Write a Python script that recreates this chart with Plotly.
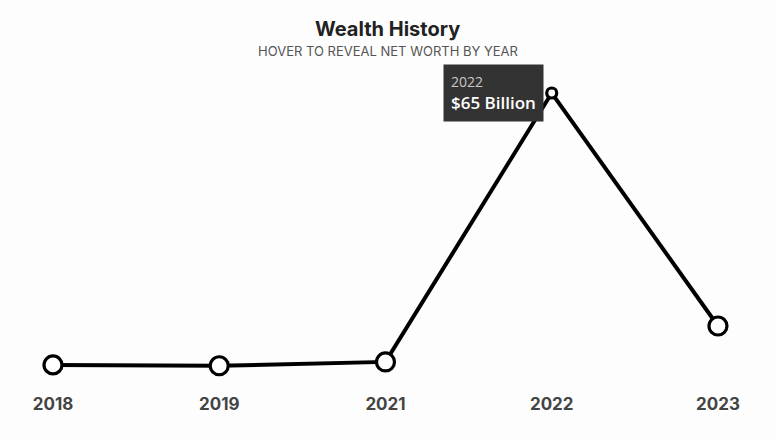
import plotly.graph_objects as go

years = ["2018", "2019", "2021", "2022", "2023"]
net_worth_billion = [1.4, 1.2, 2.1, 65, 10.5]
title_text = "Wealth History"
subtitle_text = "HOVER TO REVEAL NET WORTH BY YEAR"
hover_year = "2022"
hover_value = 65

fig = go.Figure()
fig.add_trace(go.Scatter(
    x=years, y=net_worth_billion, mode="lines+markers",
    line=dict(color="#000000", width=4),
    marker=dict(size=[18, 18, 18, 10, 18], color="#ffffff", opacity=1,
                line=dict(color="#000000", width=3.2)),
    hovertemplate="%{x}<br>$%{y} Billion<extra></extra>",
    cliponaxis=False,
))

fig.add_annotation(
    x=years.index(hover_year), y=hover_value, xref="x", yref="y",
    text=(f"<span style='font-size:14px;color:#c8c8c8;font-weight:400'>{hover_year}</span><br>"
          f"<span style='font-weight:600'>${hover_value} Billion</span>"),
    showarrow=False, xanchor="right", yanchor="middle", xshift=-8, yshift=0,
    align="left", bgcolor="#333333", borderpad=7,
    font=dict(family="Open Sans, sans-serif", size=17, color="#ffffff"),
)

fig.add_annotation(
    x=0.5, y=1, xref="paper", yref="paper", yanchor="middle", yshift=31,
    text=f"<b>{title_text}</b>", showarrow=False,
    font=dict(family="Inter, sans-serif", size=20, color="#222222"),
)
fig.add_annotation(
    x=0.5, y=1, xref="paper", yref="paper", yanchor="middle", yshift=9,
    text=subtitle_text, showarrow=False,
    font=dict(family="Inter, sans-serif", size=13, color="#555555"),
)

fig.update_layout(
    width=775, height=439,
    margin=dict(l=0, r=0, t=60, b=55),
    paper_bgcolor="#fdfdfd", plot_bgcolor="#fdfdfd",
    showlegend=False,
    xaxis=dict(type="category", range=[-0.3188, 4.343], showgrid=False,
               zeroline=False, showline=False, ticks="",
               ticklabelstandoff=8,
               tickfont=dict(family="Inter, sans-serif", size=17, color="#444444", weight="bold")),
    yaxis=dict(range=[-3.07, 72.72], visible=False),
)

fig.write_html("out.html")
